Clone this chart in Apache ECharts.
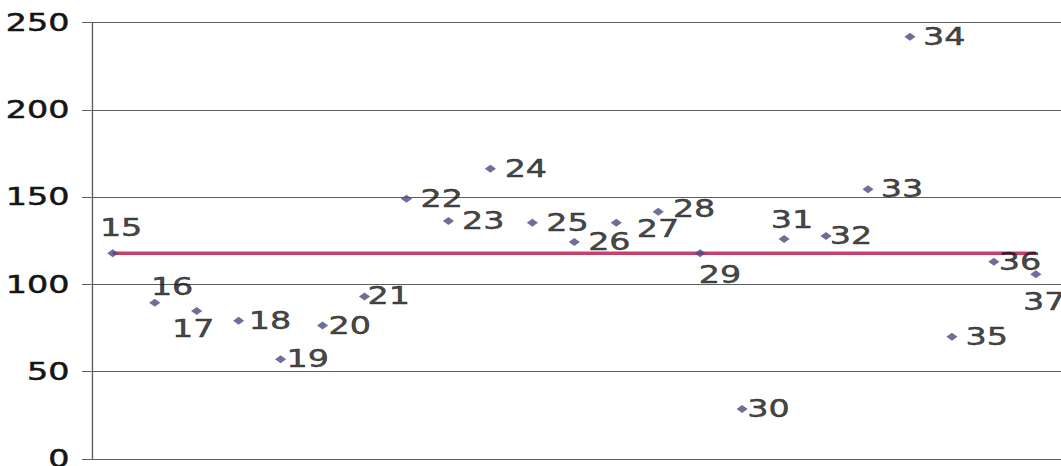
<!DOCTYPE html>
<html>
<head>
<meta charset="utf-8">
<script src="https://cdn.jsdelivr.net/npm/echarts@6/dist/echarts.min.js"></script>
<style>
  html, body { margin: 0; padding: 0; background: #ffffff; overflow: hidden; }
  #wrap { width: 1061px; height: 466px; overflow: hidden; }
  /* the chart is laid out narrow and widened horizontally */
  #chart { width: 763px; height: 466px; transform: scaleX(1.3906); transform-origin: 0 0; }
</style>
</head>
<body>
<div id="wrap"><div id="chart"></div></div>
<script>
// point numbers (also used as the point labels)
const pointIds = [15, 16, 17, 18, 19, 20, 21, 22, 23, 24, 25, 26, 27, 28, 29, 30, 31, 32, 33, 34, 35, 36, 37];
// measured value of each point
const values = [117.8, 89.5, 84.8, 79.2, 57.1, 76.4, 93.0, 149.1, 136.3, 166.3, 135.3, 124.3,
                135.3, 141.6, 117.8, 28.6, 126.0, 127.7, 154.5, 241.9, 70.0, 113.0, 105.8];
// reference level drawn across all points
const referenceLevel = 117.8;
// y axis range
const yMin = 0, yMax = 250, yStep = 50;

// label placement (offset of label centre from the marker, unwidened px)
const labelOffsets = {
  15: [6, -26], 16: [12.5, -16], 17: [-2.5, 17.5], 18: [22.5, 0], 19: [19.5, -1],
  20: [19.5, 0], 21: [17.5, -1], 22: [25.3, 0], 23: [25, 0], 24: [25.5, 0],
  25: [25.3, 0], 26: [25.2, 0], 27: [30, 6], 28: [25.8, -3], 29: [14.2, 21],
  30: [19, 0], 31: [5.6, -19], 32: [18, 0], 33: [24.5, 0], 34: [24.6, 0],
  35: [25, 0], 36: [18.7, 0], 37: [6, 27.4]
};

const FONT = 'DejaVu Sans';
const TEXT_COLOR = '#151515';
const chart = echarts.init(document.getElementById('chart'), null, { renderer: 'svg' });

chart.setOption({
  animation: false,
  backgroundColor: '#ffffff',
  grid: { left: 66, right: 0, top: 22.5, bottom: 7, containLabel: false, outerBoundsMode: 'none' },
  xAxis: {
    type: 'value', min: 14.5, max: 37.6, show: false
  },
  yAxis: {
    type: 'value', min: yMin, max: yMax, interval: yStep,
    axisLine: { show: true, lineStyle: { color: '#5e5e5e', width: 1 } },
    axisTick: { show: true, length: 7, lineStyle: { color: '#5e5e5e', width: 1 } },
    splitLine: { show: true, lineStyle: { color: '#5e5e5e', width: 1 } },
    axisLabel: {
      fontFamily: FONT, fontSize: 24, color: TEXT_COLOR, margin: 16,
      textBorderColor: TEXT_COLOR, textBorderWidth: 0.5
    }
  },
  series: [
    {
      type: 'line',
      data: pointIds.map(id => [id, referenceLevel]),
      showSymbol: false,
      symbol: 'none',
      lineStyle: { color: '#c8406a', width: 3.5 },
      z: 1,
      silent: true
    },
    {
      type: 'scatter',
      symbol: 'diamond',
      symbolSize: 8,
      itemStyle: { color: '#4a4a80' },
      z: 3,
      data: pointIds.map((id, i) => ({
        value: [id, values[i]],
        label: { offset: labelOffsets[id] }
      })),
      label: {
        show: true,
        position: 'inside',
        fontFamily: FONT,
        fontSize: 24,
        color: TEXT_COLOR,
        textBorderColor: TEXT_COLOR,
        textBorderWidth: 0.5,
        formatter: p => String(p.value[0])
      }
    }
  ]
});
</script>
</body>
</html>
